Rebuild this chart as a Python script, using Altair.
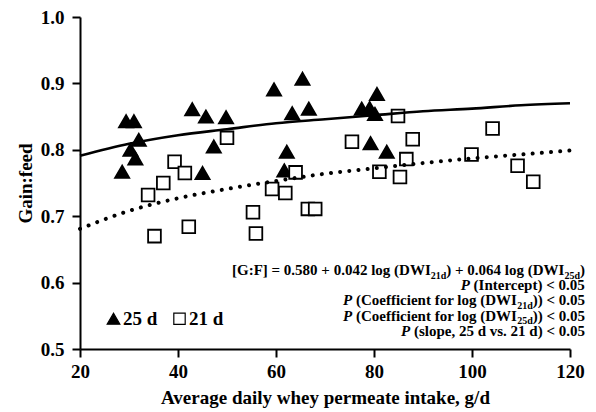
import altair as alt
import pandas as pd

# ---------------- data ----------------
series_names = ["25 d", "21 d"]

d25_intake = [29.4, 31.0, 32.0, 30.3, 31.3, 28.6, 42.9, 45.7, 49.8, 47.3, 45.0,
              59.6, 65.4, 63.3, 66.7, 62.2, 61.7, 77.5, 79.1, 80.6, 80.2, 79.3, 82.6]
d25_gf = [0.843, 0.843, 0.815, 0.800, 0.787, 0.767, 0.861, 0.850, 0.849, 0.805, 0.765,
          0.891, 0.907, 0.855, 0.862, 0.797, 0.769, 0.862, 0.863, 0.884, 0.854, 0.810, 0.797]

d21_intake = [33.9, 35.2, 37.0, 39.3, 41.4, 42.2, 50.0, 55.3, 55.9, 59.2, 61.9, 64.0,
              66.5, 68.0, 75.5, 81.1, 84.9, 85.3, 86.6, 87.9, 99.9, 104.2, 109.3, 112.5]
d21_gf = [0.732, 0.670, 0.750, 0.782, 0.765, 0.684, 0.818, 0.706, 0.674, 0.741, 0.735, 0.766,
          0.711, 0.711, 0.812, 0.767, 0.851, 0.759, 0.786, 0.816, 0.793, 0.832, 0.776, 0.752]

curve_intake = [20, 30, 40, 50, 60, 70, 80, 90, 100, 110, 120]
curve_25d = [0.791, 0.809, 0.822, 0.831, 0.840, 0.846, 0.852, 0.858, 0.862, 0.867, 0.870]
curve_21d = [0.681, 0.708, 0.727, 0.741, 0.753, 0.764, 0.772, 0.780, 0.787, 0.793, 0.799]

x_ticks = [20, 40, 60, 80, 100, 120]
y_ticks = [0.5, 0.6, 0.7, 0.8, 0.9, 1.0]

x_title = "Average daily whey permeate intake, g/d"
y_title = "Gain:feed"

equation_lines = [
    [("[G:F] = 0.580 + 0.042 log (DWI", "main"), ("21d", "sub"),
     (") + 0.064 log (DWI", "main"), ("25d", "sub"), (")", "main")],
    [("P", "ital"), (" (Intercept) < 0.05", "main")],
    [("P", "ital"), (" (Coefficient for log (DWI", "main"), ("21d", "sub"), (")) < 0.05", "main")],
    [("P", "ital"), (" (Coefficient for log (DWI", "main"), ("25d", "sub"), (")) < 0.05", "main")],
    [("P", "ital"), (" (slope, 25 d vs. 21 d) < 0.05", "main")],
]

# ---------------- layout ----------------
W, H = 490, 332
PAD = {"left": 72, "top": 9, "right": 18, "bottom": 59}
FONT = "Liberation Serif"
X0, X1, Y0, Y1 = 20.0, 120.0, 0.5, 1.0

# Times/Liberation Serif Bold advance widths (per 1000 em) for placing text segments
ADV = {' ': 250, '(': 333, ')': 333, '+': 570, ',': 250, '.': 250, '/': 278, ':': 333,
       '<': 570, '=': 570, '[': 333, ']': 333, 'C': 722, 'D': 722, 'F': 611, 'G': 778,
       'I': 389, 'P': 611, 'W': 1000, 'a': 500, 'c': 444, 'd': 556, 'e': 444, 'f': 333,
       'g': 500, 'i': 278, 'k': 556, 'l': 278, 'n': 556, 'o': 500, 'p': 556, 'r': 444,
       's': 389, 't': 333, 'v': 500, 'y': 500}
SIZES = {"main": 15, "ital": 15, "sub": 10}


def text_width(s, size):
    return sum(ADV.get(c, 500) for c in s) * size / 1000.0


def px_to_x(px):
    return X0 + px * (X1 - X0) / W


def py_to_y(py):
    return Y1 - py * (Y1 - Y0) / H


RIGHT_EDGE = 505.0
FIRST_BASELINE = 258.0
LINE_STEP = 15.2
rows = []
for i, segs in enumerate(equation_lines):
    base = FIRST_BASELINE + i * LINE_STEP
    total = sum(text_width(s, SIZES[k]) for s, k in segs)
    cur = RIGHT_EDGE - total
    for s, k in segs:
        size = SIZES[k]
        lead = len(s) - len(s.lstrip(" "))
        start = cur + text_width(" " * lead, size)
        yy = base + (3.5 if k == "sub" else 0.0)
        rows.append({"text": s.strip(" "), "intake": px_to_x(start), "gf": py_to_y(yy), "kind": k})
        cur += text_width(s, size)
eq_df = pd.DataFrame(rows)

pts_df = pd.DataFrame({
    "intake": d25_intake + d21_intake,
    "gf": d25_gf + d21_gf,
    "series": [series_names[0]] * len(d25_intake) + [series_names[1]] * len(d21_intake),
})
c25_df = pd.DataFrame({"intake": curve_intake, "gf": curve_25d})
c21_df = pd.DataFrame({"intake": curve_intake, "gf": curve_21d})

xs = alt.Scale(domain=[X0, X1], nice=False, zero=False)
ys = alt.Scale(domain=[Y0, Y1], nice=False, zero=False)
x_enc = alt.X("intake:Q", scale=xs, title=x_title,
              axis=alt.Axis(values=x_ticks, format="d", labelFlush=False,
                            labelPadding=5, titlePadding=7))
y_enc = alt.Y("gf:Q", scale=ys, title=y_title,
              axis=alt.Axis(values=y_ticks, format=".1f", labelPadding=8, titlePadding=5))

leg = alt.Legend(title=None, orient="none", legendX=24, legendY=292, direction="horizontal",
                 labelFont=FONT, labelFontWeight="bold", labelFontSize=19, labelColor="black",
                 symbolSize=160, symbolStrokeWidth=1.2, columnPadding=12, labelOffset=0)

SQUARE_PATH = "M-0.9,-0.9H0.9V0.9H-0.9Z"
points = alt.Chart(pts_df).mark_point(filled=True, size=200, strokeWidth=1.8, opacity=1).encode(
    x=x_enc, y=y_enc,
    shape=alt.Shape("series:N", scale=alt.Scale(domain=series_names, range=["triangle-up", SQUARE_PATH]), legend=leg),
    fill=alt.Fill("series:N", scale=alt.Scale(domain=series_names, range=["black", "white"]), legend=leg),
    stroke=alt.Stroke("series:N", scale=alt.Scale(domain=series_names, range=["black", "black"]), legend=leg),
)

line25 = alt.Chart(c25_df).mark_line(color="black", strokeWidth=2.6, interpolate="monotone").encode(
    x=x_enc, y=y_enc)
line21 = alt.Chart(c21_df).mark_line(color="black", strokeWidth=4, strokeCap="round",
                                      strokeDash=[0.01, 9.2], interpolate="monotone").encode(
    x=x_enc, y=y_enc)

def eq_layer(kind, **kw):
    return alt.Chart(eq_df).transform_filter(alt.datum.kind == kind).mark_text(
        align="left", baseline="alphabetic", font=FONT, fontWeight="bold",
        fontSize=SIZES[kind], color="black", **kw).encode(x=x_enc, y=y_enc, text="text:N")

chart = alt.layer(
    points, line25, line21,
    eq_layer("main"), eq_layer("ital", fontStyle="italic"), eq_layer("sub"),
).properties(
    width=W, height=H, padding=PAD, autosize=alt.AutoSizeParams(type="none"),
    background="white",
).configure_view(stroke=None).configure_axis(
    grid=False, domainColor="black", domainWidth=2, tickColor="black", tickWidth=2, tickSize=8,
    labelFont=FONT, labelFontWeight="bold", labelFontSize=19, labelColor="black",
    titleFont=FONT, titleFontWeight="bold", titleFontSize=19, titleColor="black",
)

chart.save("out.html", embed_options={"renderer": "svg", "actions": False})
